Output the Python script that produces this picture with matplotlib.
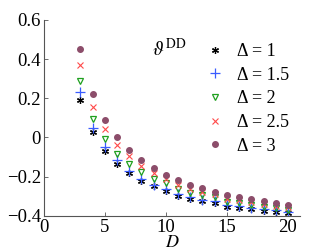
import matplotlib
matplotlib.use("Agg")
import matplotlib.pyplot as plt

plt.rcParams['font.family'] = ['Liberation Serif', 'DejaVu Serif']
plt.rcParams['mathtext.fontset'] = 'stix'

D = list(range(3, 21))

# theta^DD for each Delta
d1 = [0.192, 0.026, -0.068, -0.134, -0.184, -0.221, -0.250, -0.272, -0.298, -0.313,
      -0.327, -0.337, -0.354, -0.361, -0.367, -0.374, -0.379, -0.388]
d15 = [0.231, 0.047, -0.051, -0.117, -0.170, -0.211, -0.242, -0.262, -0.289, -0.306,
       -0.318, -0.327, -0.344, -0.352, -0.358, -0.366, -0.372, -0.379]
d2 = [0.289, 0.095, -0.007, -0.083, -0.136, -0.179, -0.213, -0.233, -0.264, -0.284,
      -0.296, -0.306, -0.330, -0.337, -0.345, -0.354, -0.361, -0.369]
d25 = [0.371, 0.158, 0.044, -0.041, -0.095, -0.145, -0.184, -0.211, -0.241, -0.264,
       -0.279, -0.289, -0.313, -0.321, -0.332, -0.342, -0.349, -0.357]
d3 = [0.452, 0.221, 0.090, 0.002, -0.065, -0.114, -0.156, -0.190, -0.219, -0.241,
      -0.258, -0.277, -0.292, -0.303, -0.315, -0.327, -0.335, -0.344]

labels = ['\u0394 = 1', '\u0394 = 1.5', '\u0394 = 2', '\u0394 = 2.5', '\u0394 = 3']

fig = plt.figure(figsize=(3.32, 2.5), dpi=100)
ax = fig.add_axes([0.132, 0.137, 0.772, 0.783])

ax.plot(D, d1, ls='none', marker=(6, 2, 0), ms=5, mec='black', mew=0.9, label=labels[0])
ax.plot(D, d15, ls='none', marker='+', ms=6.5, mec='#3a5cff', mew=0.9, label=labels[1])
ax.plot(D, d2, ls='none', marker='v', ms=4.2, mfc='none', mec='#1fa01f', mew=0.9, label=labels[2])
ax.plot(D, d25, ls='none', marker='x', ms=4.5, mec='#ff4a4a', mew=0.8, label=labels[3])
ax.plot(D, d3, ls='none', marker='o', ms=4, mfc='#8c4d6a', mec='#8c4d6a', label=labels[4])

ax.set_xlim(0, 21)
ax.set_ylim(-0.4, 0.6)
ax.set_xticks([0, 5, 10, 15, 20])
ax.set_yticks([-0.4, -0.2, 0, 0.2, 0.4, 0.6])
ax.set_yticklabels(['\u22120.4', '\u22120.2', '0', '0.2', '0.4', '0.6'])
for s in ['top', 'right']:
    ax.spines[s].set_visible(False)
for s in ['left', 'bottom']:
    ax.spines[s].set_color('#555555')
    ax.spines[s].set_linewidth(0.8)
ax.tick_params(direction='in', length=3, width=0.6, color='#555555', labelsize=13.5, pad=2)

ax.set_xlabel('$D$', fontsize=13, labelpad=-1)
ax.text(8.9, 0.45, '$\\vartheta^{\\rm DD}$', fontsize=14, va='center')

ax.legend(loc='upper right', bbox_to_anchor=(0.985, 0.92), frameon=False, fontsize=13,
          handlelength=0.8, handletextpad=0.8, labelspacing=0.37, borderaxespad=0)

fig.savefig('out.png', dpi=100)
